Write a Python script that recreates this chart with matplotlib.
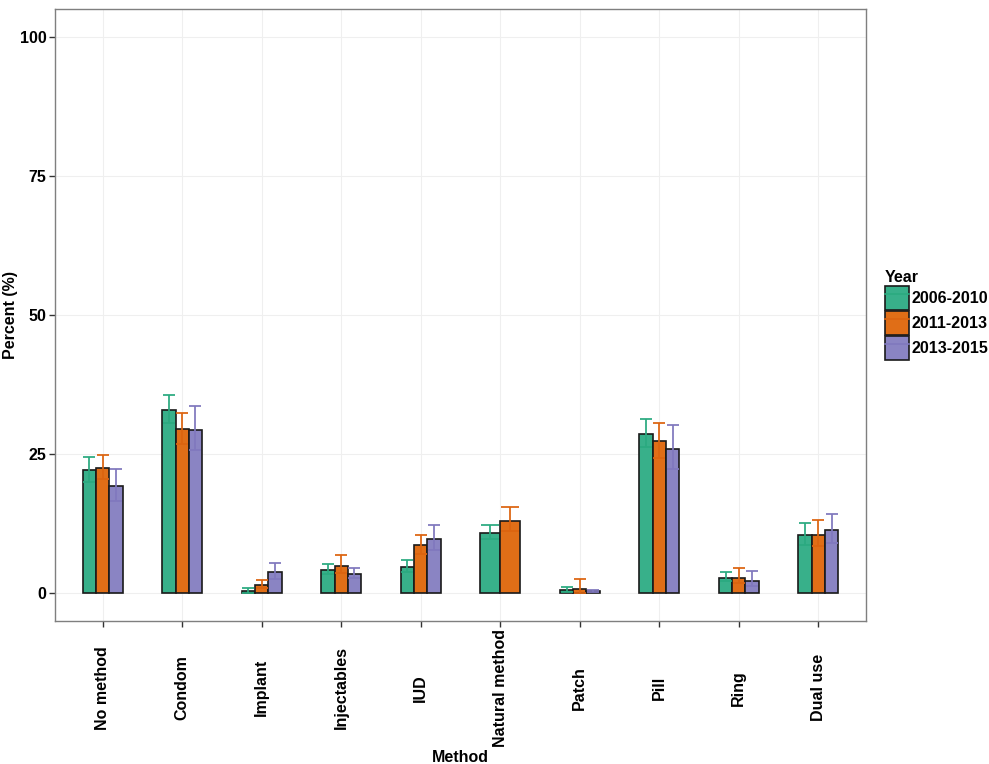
import numpy as np
import matplotlib
matplotlib.use("Agg")
import matplotlib.pyplot as plt
from matplotlib.patches import Patch
from matplotlib.lines import Line2D

plt.rcParams['font.family'] = ['Liberation Sans', 'DejaVu Sans']
plt.rcParams['font.weight'] = 'bold'

methods = ["No method", "Condom", "Implant", "Injectables", "IUD",
           "Natural method", "Patch", "Pill", "Ring", "Dual use"]
years = ["2006-2010", "2011-2013", "2013-2015"]

v2006 = [22.1, 33.0, 0.4, 4.1, 4.7, 10.8, 0.6, 28.7, 2.7, 10.4]
lo2006 = [20.0, 30.6, 0.1, 3.5, 3.8, 9.7, 0.3, 26.2, 2.2, 8.6]
hi2006 = [24.4, 35.7, 0.9, 5.2, 5.9, 12.2, 1.1, 31.3, 3.8, 12.7]

v2011 = [22.5, 29.5, 1.5, 4.9, 8.6, 13.0, 0.8, 27.3, 2.8, 10.5]
lo2011 = [20.5, 26.9, 1.0, 3.7, 7.1, 11.1, 0.0, 24.3, 1.8, 8.4]
hi2011 = [24.8, 32.3, 2.4, 6.8, 10.4, 15.5, 2.5, 30.6, 4.6, 13.1]

v2013 = [19.2, 29.4, 3.8, 3.4, 9.8, np.nan, 0.35, 26.0, 2.2, 11.4]
lo2013 = [16.6, 25.7, 2.6, 2.7, 7.8, np.nan, 0.2, 22.3, 1.3, 9.1]
hi2013 = [22.3, 33.6, 5.5, 4.5, 12.3, np.nan, 0.5, 30.2, 3.9, 14.2]

series = [(v2006, lo2006, hi2006), (v2011, lo2011, hi2011), (v2013, lo2013, hi2013)]
fill_colors = ["#38B08A", "#E06E17", "#8A84C3"]
err_colors = ["#2BAA80", "#DC6410", "#8078BE"]

W, H = 989, 764
fig = plt.figure(figsize=(W / 100, H / 100), dpi=100)
ax = fig.add_axes([55 / W, 1 - 621 / H, (866 - 55) / W, (621 - 9) / H])

ax.set_xlim(0.4, len(methods) + 0.6)
ax.set_ylim(-5, 105)
px_per_unit = ax.get_position().width * W / (ax.get_xlim()[1] - ax.get_xlim()[0])

total_w = 0.5
for gi in range(len(methods)):
    present = [si for si in range(3) if not np.isnan(series[si][0][gi])]
    n = len(present)
    bw = total_w / n
    for k, si in enumerate(present):
        v, lo, hi = series[si]
        x = gi + 1 - total_w / 2 + bw * (k + 0.5)
        ax.bar(x, v[gi], width=bw, color=fill_colors[si], edgecolor="#1a1a1a",
               linewidth=1.2, zorder=2)
        cap = 0.5 * bw * px_per_unit * 0.72 * 0.95
        ax.errorbar(x, v[gi], yerr=[[v[gi] - lo[gi]], [hi[gi] - v[gi]]], fmt='none',
                    ecolor=err_colors[si], elinewidth=1.4, capsize=cap,
                    capthick=1.4, alpha=0.9, zorder=3)

ax.set_yticks([0, 25, 50, 75, 100])
ax.set_yticklabels(["0", "25", "50", "75", "100"], fontsize=11.5, fontweight='bold')
ax.set_xticks(range(1, len(methods) + 1))
ax.set_xticklabels(methods, rotation=90, fontsize=11.5, fontweight='bold',
                   va='center', ha='center')
ax.tick_params(axis='x', length=4, width=1, color='#333333', pad=44)
ax.tick_params(axis='y', length=4, width=1, color='#333333', pad=2)

ax.grid(True, color='#EFEFEF', linewidth=0.8, zorder=0)
ax.set_axisbelow(True)
for s in ax.spines.values():
    s.set_color('#7F7F7F')
    s.set_linewidth(1.0)

ax.set_xlabel("Method", fontsize=11.5, fontweight='bold')
ax.xaxis.set_label_coords(0.5, -(750 - 621) / (621 - 9))
ax.set_ylabel("Percent (%)", fontsize=11.5, fontweight='bold')
ax.yaxis.set_label_coords(-(55 - 18) / (866 - 55), 0.5)

handles = []
for si in range(3):
    p = Patch(facecolor=fill_colors[si], edgecolor="#1a1a1a", linewidth=1.2)
    l = Line2D([], [], color=err_colors[si], linewidth=1.2)
    handles.append((p, l))
leg = fig.legend(handles, years, loc='upper left',
                 bbox_to_anchor=(885 / W, 1 - 270 / H), frameon=False,
                 title="Year", fontsize=11.5, title_fontsize=11.5,
                 handlelength=1.5, handleheight=1.95, labelspacing=0.05,
                 handletextpad=0.18, borderpad=0.0, borderaxespad=0.0,
                 alignment='left')
leg.get_title().set_fontweight('bold')

fig.savefig("out.png", dpi=100)
